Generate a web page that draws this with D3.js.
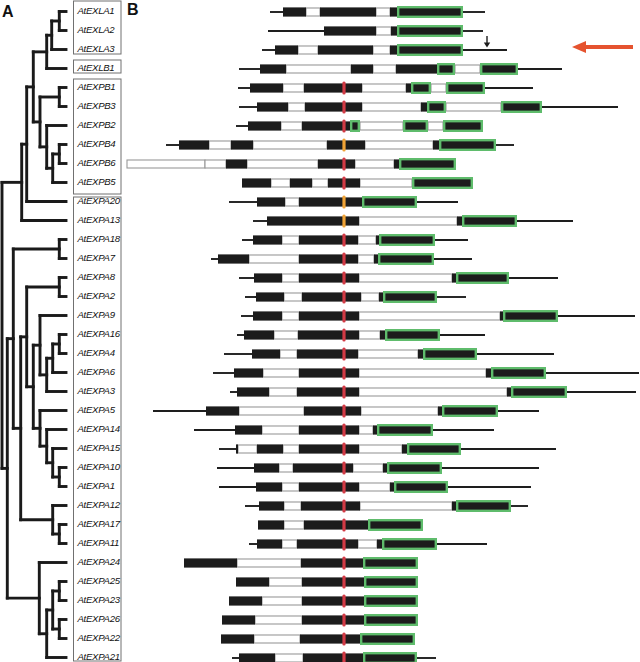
<!DOCTYPE html>
<html><head><meta charset="utf-8">
<script src="https://cdn.jsdelivr.net/npm/d3@7"></script>
<style>body{margin:0;background:#fff}svg{display:block}</style>
</head><body>
<svg id="c" width="640" height="662"></svg>
<script>
// ---------- DATA ----------
const genes = ["AtEXLA1","AtEXLA2","AtEXLA3","AtEXLB1","AtEXPB1","AtEXPB3","AtEXPB2","AtEXPB4","AtEXPB6","AtEXPB5",
  "AtEXPA20","AtEXPA13","AtEXPA18","AtEXPA7","AtEXPA8","AtEXPA2","AtEXPA9","AtEXPA16","AtEXPA4","AtEXPA6","AtEXPA3",
  "AtEXPA5","AtEXPA14","AtEXPA15","AtEXPA10","AtEXPA1","AtEXPA12","AtEXPA17","AtEXPA11","AtEXPA24","AtEXPA25",
  "AtEXPA23","AtEXPA26","AtEXPA22","AtEXPA21"];

// marker type per gene: r = red, o = orange, null = none
const markerType = [null,null,null,null,"r","r","r","o","r","r","o","o",
  "r","r","r","r","r","r","r","r","r","r","r","r","r","r","r","r","r","r","r","r","r","r","r"];
const markerPos = 344;

// gene structures: start position, then [type, end] segments
// l = flanking line, e = exon, i = intron, g = highlighted exon
const structures = [
  [270,["l",283],["e",306],["i",320],["e",376],["i",390],["e",397],["g",463],["l",485]],
  [268,["l",324],["e",376],["i",391],["e",397],["g",463],["l",483]],
  [262,["l",275],["e",298],["i",318],["e",373],["i",390],["e",397],["g",463],["l",507]],
  [239,["l",260],["e",286],["i",351],["e",373],["i",396],["e",437],["g",455],["i",480],["g",518],["l",562]],
  [238,["l",250],["e",283],["i",304],["e",362],["i",406],["e",411],["g",431],["i",446],["g",485],["l",533]],
  [239,["l",257],["e",288],["i",305],["e",362],["i",421],["e",427],["g",446],["i",501],["g",542],["l",618]],
  [236,["l",248],["e",281],["i",302],["e",350],["g",360],["i",403],["g",428],["i",443],["g",483]],
  [166,["l",179],["e",209],["i",231],["e",253],["i",327],["e",365],["i",433],["e",439],["g",496],["l",514]],
  [127,["i",205],["i",226],["e",247],["i",318],["e",355],["i",394],["e",399],["g",456]],
  [242,["e",271],["i",290],["e",312],["i",328],["e",360],["i",412],["g",473]],
  [229,["l",257],["e",285],["i",299],["e",362],["g",417],["l",458]],
  [253,["l",267],["e",359],["i",457],["e",462],["g",517],["l",573]],
  [242,["l",253],["e",282],["i",299],["e",358],["i",376],["e",379],["g",435],["l",468]],
  [211,["l",218],["e",249],["i",299],["e",358],["i",374],["e",378],["g",434],["l",472]],
  [239,["l",254],["e",282],["i",299],["e",359],["i",452],["e",456],["g",509],["l",558]],
  [245,["l",256],["e",284],["i",302],["e",361],["i",379],["e",383],["g",437],["l",466]],
  [241,["l",253],["e",282],["i",299],["e",359],["i",500],["e",503],["g",558],["l",635]],
  [237,["l",244],["e",274],["i",298],["e",359],["i",380],["e",385],["g",440],["l",485]],
  [224,["l",252],["e",280],["i",297],["e",358],["i",418],["e",423],["g",477],["l",554]],
  [213,["l",234],["e",263],["i",299],["e",359],["i",486],["e",491],["g",546],["l",639]],
  [230,["l",237],["e",269],["i",297],["e",359],["i",507],["e",511],["g",567],["l",636]],
  [153,["l",206],["e",239],["i",304],["e",361],["i",438],["e",442],["g",498],["l",539]],
  [194,["l",235],["e",262],["i",299],["e",359],["i",373],["e",377],["g",433],["l",494]],
  [219,["l",236],["e",238],["i",257],["e",283],["i",299],["e",359],["i",402],["e",407],["g",461],["l",556]],
  [217,["l",254],["e",279],["i",293],["e",353],["i",383],["e",387],["g",442],["l",539]],
  [219,["l",256],["e",282],["i",299],["e",359],["i",390],["e",394],["g",448],["l",531]],
  [245,["l",259],["e",284],["i",301],["e",360],["i",452],["e",456],["g",511],["l",528]],
  [258,["e",284],["i",304],["e",368],["g",423]],
  [249,["l",257],["e",282],["i",297],["e",358],["i",377],["e",382],["g",437],["l",487]],
  [184,["e",237],["i",301],["e",363],["g",418]],
  [236,["e",269],["i",302],["e",364],["g",418]],
  [229,["e",262],["i",302],["e",364],["g",418]],
  [222,["e",255],["i",302],["e",364],["g",418]],
  [221,["e",254],["i",300],["e",360],["g",415]],
  [232,["l",239],["e",275],["i",303],["e",363],["g",417],["l",436]]
];

// tree: node distance from tips (d) and children
const L = name => ({name});
const N = (d, ...c) => ({d, c});
const tree = N(64,
  N(44.3,
    N(39.3,
      N(32.7,
        N(19.3, N(14.3, N(6.7, L("AtEXLA1"), L("AtEXLA2")), L("AtEXLA3")), L("AtEXLB1")),
        N(26, N(6.7, L("AtEXPB1"), L("AtEXPB3")),
              N(19.3, L("AtEXPB2"), N(13.3, N(6.7, L("AtEXPB4"), L("AtEXPB6")), L("AtEXPB5"))))),
      L("AtEXPA20")),
    L("AtEXPA13")),
  N(58.7,
    N(52.7,
      N(6.7, L("AtEXPA18"), L("AtEXPA7")),
      N(45.3,
        N(39.3,
          N(6.7, L("AtEXPA8"), L("AtEXPA2")),
          N(32.7,
            N(26, L("AtEXPA9"), N(19.3, N(13.3, N(6.7, L("AtEXPA16"), L("AtEXPA4")), L("AtEXPA6")), L("AtEXPA3"))),
            N(26, L("AtEXPA5"), N(19.3, L("AtEXPA14"), N(13.3, L("AtEXPA15"), N(6.7, L("AtEXPA10"), L("AtEXPA1"))))))),
        N(13.3, L("AtEXPA12"), N(6.7, L("AtEXPA17"), L("AtEXPA11"))))),
    N(26.7, L("AtEXPA24"),
      N(19.3, N(13.3, N(6.7, L("AtEXPA25"), L("AtEXPA23")), N(6.7, L("AtEXPA26"), L("AtEXPA22"))), L("AtEXPA21")))));

const labelGroups = [[0,2],[3,3],[4,9],[10,34]];
const panelLabels = ["A","B"];
const arrowGene = "AtEXLA3";
const arrowPos = 487;

// ---------- DRAW ----------
const svg = d3.select("#c");
const FONT = "'Liberation Sans', Arial, Helvetica, sans-serif";
const y = d3.scalePoint().domain(genes).range([12, 658]);
const x = d3.scaleLinear().domain([100, 640]).range([100, 640]);
const tx = d3.scaleLinear().domain([0, 64]).range([66, 2]);

// tree
const root = d3.hierarchy(tree, d => d.c);
root.eachAfter(n => {
  if (!n.children) { n.yy = y(n.data.name) - 0.5; n.xx = tx(0); }
  else { n.yy = (n.children[0].yy + n.children[n.children.length-1].yy) / 2; n.xx = tx(n.data.d); }
});
const tg = svg.append("g").attr("fill","none").attr("stroke","#1a1a1a")
  .attr("stroke-width",2.9).attr("stroke-linecap","square");
root.descendants().forEach(n => {
  if (n.parent) tg.append("path").attr("d", `M${n.parent.xx},${n.yy}H${n.xx}`);
  if (n.children) tg.append("path").attr("d", `M${n.xx},${n.children[0].yy}V${n.children[n.children.length-1].yy}`);
});

// label boxes
const boxPad = [[11,4],[9,4],[9,11],[5,4]];
labelGroups.forEach(([a,b],k) => {
  const top = y(genes[a]) - boxPad[k][0], bot = Math.min(y(genes[b]) + boxPad[k][1], 661);
  svg.append("rect").attr("x",73.5).attr("y",top).attr("width",47.5).attr("height",bot-top)
    .attr("fill","none").attr("stroke","#707070").attr("stroke-width",1);
});
svg.append("g").selectAll("text").data(genes).join("text")
  .attr("x",77.5).attr("y",d => y(d) + 1.8)
  .attr("font-family",FONT).attr("font-size",9.6).attr("font-style","italic")
  .attr("letter-spacing",-0.3).attr("fill","#111").text(d => d);

// panel letters
svg.append("text").attr("x",2).attr("y",16.5).attr("font-family",FONT).attr("font-weight","bold")
  .attr("font-size",16).attr("fill","#111").text(panelLabels[0]);
svg.append("text").attr("x",127).attr("y",15).attr("font-family",FONT).attr("font-weight","bold")
  .attr("font-size",16).attr("fill","#111").text(panelLabels[1]);

// gene structures
const segs = [];
structures.forEach((s,i) => {
  let start = s[0];
  s.slice(1).forEach(([t,end]) => { segs.push({t, a:start, b:end, g:genes[i]}); start = end; });
});
const gL = svg.append("g"), gI = svg.append("g"), gE = svg.append("g"), gG = svg.append("g"), gM = svg.append("g");
gL.selectAll("line").data(segs.filter(d => d.t==="l")).join("line")
  .attr("x1",d=>x(d.a)).attr("x2",d=>x(d.b)).attr("y1",d=>y(d.g)).attr("y2",d=>y(d.g))
  .attr("stroke","#1e1e1e").attr("stroke-width",1.9);
gI.selectAll("rect").data(segs.filter(d => d.t==="i")).join("rect")
  .attr("x",d=>x(d.a)).attr("width",d=>x(d.b)-x(d.a)).attr("y",d=>y(d.g)-4).attr("height",8)
  .attr("fill","#fff").attr("stroke","#999").attr("stroke-width",1.1);
gE.selectAll("rect").data(segs.filter(d => d.t==="e")).join("rect")
  .attr("x",d=>x(d.a)).attr("width",d=>x(d.b)-x(d.a)).attr("y",d=>y(d.g)-4.6).attr("height",9.2)
  .attr("fill","#1c1c1c");
const gs = segs.filter(d => d.t==="g");
gG.selectAll("rect.o").data(gs).join("rect").attr("class","o")
  .attr("x",d=>x(d.a)).attr("width",d=>x(d.b)-x(d.a)).attr("y",d=>y(d.g)-6).attr("height",12)
  .attr("fill","#5fbc6c");
gG.selectAll("rect.n").data(gs).join("rect").attr("class","n")
  .attr("x",d=>x(d.a)+2.4).attr("width",d=>Math.max(1,x(d.b)-x(d.a)-4.8)).attr("y",d=>y(d.g)-3.6).attr("height",7.2)
  .attr("fill","#1c1c1c");
gM.selectAll("rect").data(genes.filter((g,i)=>markerType[i])).join("rect")
  .attr("x",x(markerPos)-1.6).attr("width",3.2).attr("y",d=>y(d)-6.5).attr("height",13).attr("rx",1.5)
  .attr("fill",d => markerType[genes.indexOf(d)]==="o" ? "#f0a336" : "#d23a45");

// small arrow
const ay = y(arrowGene);
svg.append("line").attr("x1",x(arrowPos)).attr("x2",x(arrowPos)).attr("y1",ay-14).attr("y2",ay-6)
  .attr("stroke","#1e1e1e").attr("stroke-width",1.4);
svg.append("path").attr("d",`M${x(arrowPos)-3.2},${ay-7.5}L${x(arrowPos)+3.2},${ay-7.5}L${x(arrowPos)},${ay-2.5}Z`).attr("fill","#1e1e1e");

// red arrow
svg.append("line").attr("x1",582).attr("x2",633).attr("y1",ay-3).attr("y2",ay-3)
  .attr("stroke","#e5532f").attr("stroke-width",4);
svg.append("path").attr("d",`M572,${ay-3}L586,${ay-9}L586,${ay+3}Z`).attr("fill","#e5532f");
</script>
</body></html>
